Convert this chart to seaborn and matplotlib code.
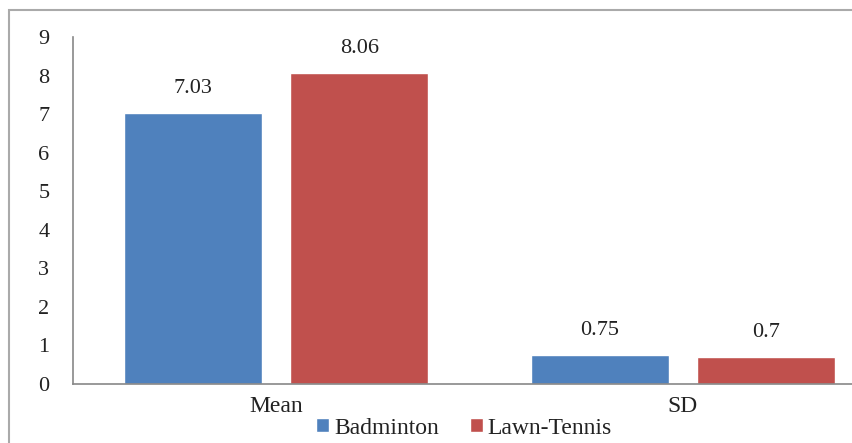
import matplotlib
matplotlib.use("Agg")
import matplotlib.pyplot as plt
import seaborn as sns
import pandas as pd
from matplotlib.patches import Rectangle, Patch

categories = ["Mean", "SD"]
badminton = [7.03, 0.75]
lawn_tennis = [8.06, 0.70]
series = ["Badminton", "Lawn-Tennis"]
colors = ["#4F81BD", "#C0504D"]

df = pd.DataFrame({
    "stat": categories * 2,
    "value": badminton + lawn_tennis,
    "group": [series[0]] * 2 + [series[1]] * 2,
})

sns.set_theme(style="white")
plt.rcParams["font.family"] = ["Liberation Serif", "DejaVu Serif"]

W, H = 853, 443
fig = plt.figure(figsize=(W / 100, H / 100), dpi=100)
ax = fig.add_axes([73 / W, 1 - 384 / H, (886 - 73) / W, (384 - 37) / H])

sns.barplot(data=df, x="stat", y="value", hue="group", palette=colors,
            width=0.816, gap=0.17, ax=ax, legend=False, saturation=1)

for cont in ax.containers:
    ax.bar_label(cont, labels=[f"{v:g}" for v in cont.datavalues],
                 padding=11, fontsize=16, color="#222222")

ax.set_xlim(-0.5, 1.5)
ax.set_ylim(0, 9)
ax.set_yticks(range(10))
ax.set_xlabel("")
ax.set_ylabel("")
ax.tick_params(axis="y", length=0, pad=17, labelsize=16, labelcolor="#222222")
ax.tick_params(axis="x", length=0, pad=9, labelsize=17, labelcolor="#222222")
for s in ["top", "right"]:
    ax.spines[s].set_visible(False)
for s in ["left", "bottom"]:
    ax.spines[s].set_color("#888888")
    ax.spines[s].set_linewidth(1.2)

handles = [Patch(facecolor=c, label=l) for c, l in zip(colors, series)]
fig.legend(handles=handles, loc="center", bbox_to_anchor=(464 / W, 1 - 428 / H),
           ncol=2, frameon=False, fontsize=17, handlelength=0.55, handleheight=0.55,
           handletextpad=0.2, columnspacing=1.3, labelcolor="#222222")

fig.patches.append(Rectangle((9 / W, -0.1), 1.2, 1 - 10 / H + 0.1,
                             transform=fig.transFigure, fill=False,
                             edgecolor="#aaaaaa", linewidth=1.5))

fig.savefig("out.png", dpi=100)
